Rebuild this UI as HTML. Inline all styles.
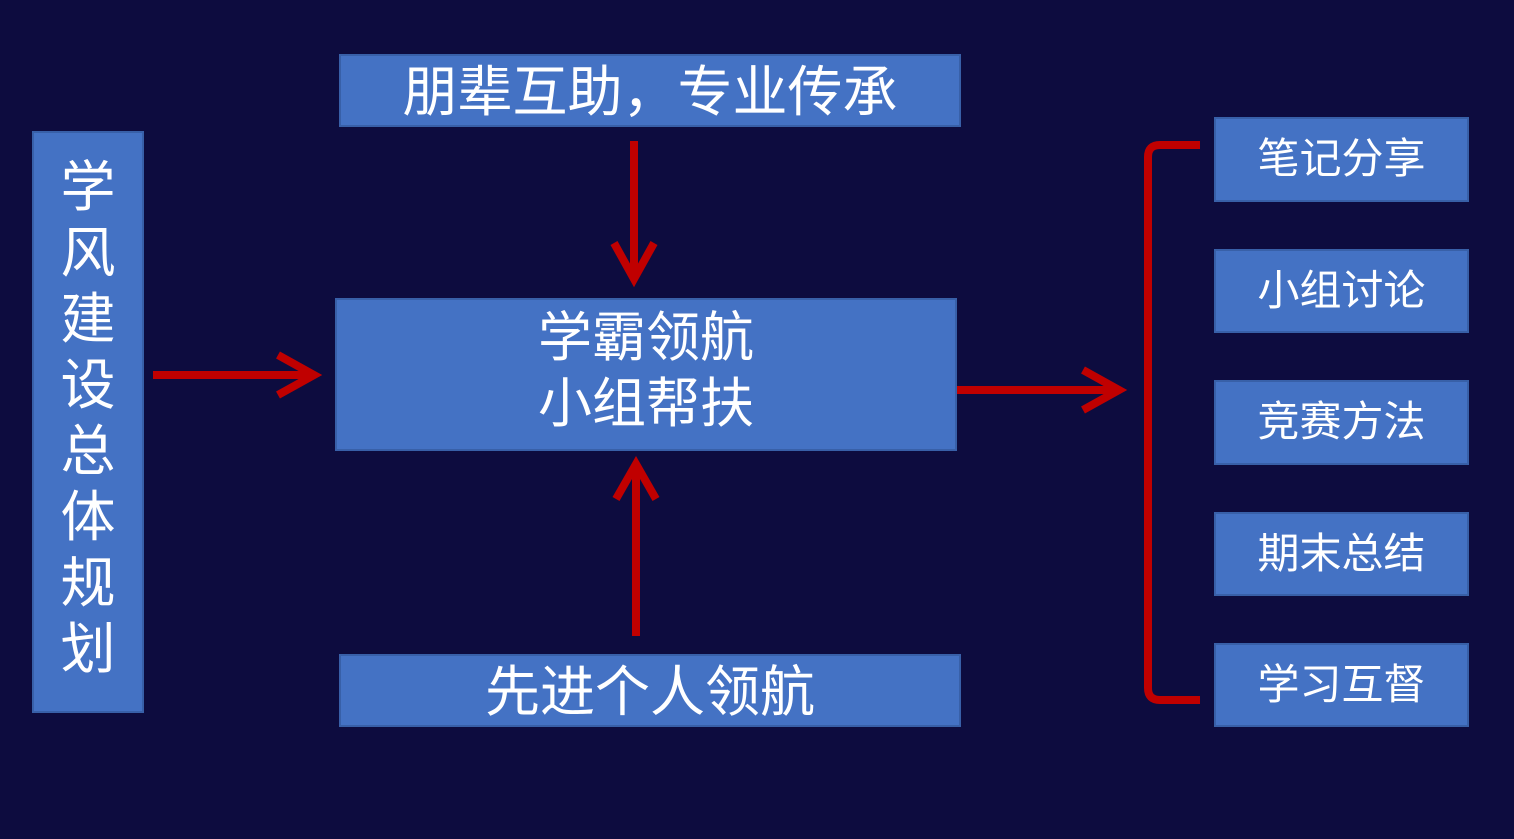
<!DOCTYPE html>
<html><head><meta charset="utf-8"><style>
html,body{margin:0;padding:0;}
body{width:1514px;height:839px;background:#0d0c3f;position:relative;overflow:hidden;font-family:"Liberation Sans","Noto Sans CJK SC",sans-serif;color:#fff;}
.b{position:absolute;background:#4472c4;border:2px solid #3860a8;box-sizing:border-box;display:flex;align-items:center;justify-content:center;text-align:center;}
.b span{position:relative;top:-4px;}
svg{position:absolute;left:0;top:0;}
</style></head><body>
<div class="b" style="left:32px;top:131px;width:112px;height:582px;font-size:55px;line-height:66px;flex-direction:column;">
<span>学<br>风<br>建<br>设<br>总<br>体<br>规<br>划</span></div>
<div class="b" style="left:339px;top:54px;width:622px;height:73px;font-size:55px;"><span>朋辈互助，专业传承</span></div>
<div class="b" style="left:335px;top:298px;width:622px;height:153px;font-size:54px;line-height:66px;"><span>学霸领航<br>小组帮扶</span></div>
<div class="b" style="left:339px;top:654px;width:622px;height:73px;font-size:55px;"><span>先进个人领航</span></div>
<div class="b" style="left:1214px;top:117px;width:255px;height:85px;font-size:42px;"><span>笔记分享</span></div>
<div class="b" style="left:1214px;top:249px;width:255px;height:84px;font-size:42px;"><span>小组讨论</span></div>
<div class="b" style="left:1214px;top:380px;width:255px;height:85px;font-size:42px;"><span>竞赛方法</span></div>
<div class="b" style="left:1214px;top:512px;width:255px;height:84px;font-size:42px;"><span>期末总结</span></div>
<div class="b" style="left:1214px;top:643px;width:255px;height:84px;font-size:42px;"><span>学习互督</span></div>
<svg width="1514" height="839" fill="none" stroke="#c00000" stroke-width="8">
<line x1="153" y1="375" x2="314" y2="375"/><polyline points="278,355 314,375 278,395"/>
<line x1="634" y1="141" x2="634" y2="279"/><polyline points="614,243 634,279 654,243"/>
<line x1="636" y1="636" x2="636" y2="464"/><polyline points="616,499 636,464 656,499"/>
<line x1="957" y1="390" x2="1119" y2="390"/><polyline points="1083,370 1119,390 1083,410"/>
<path d="M1200,145 L1160,145 Q1148,145 1148,157 L1148,688 Q1148,700 1160,700 L1200,700"/>
</svg>
</body></html>
